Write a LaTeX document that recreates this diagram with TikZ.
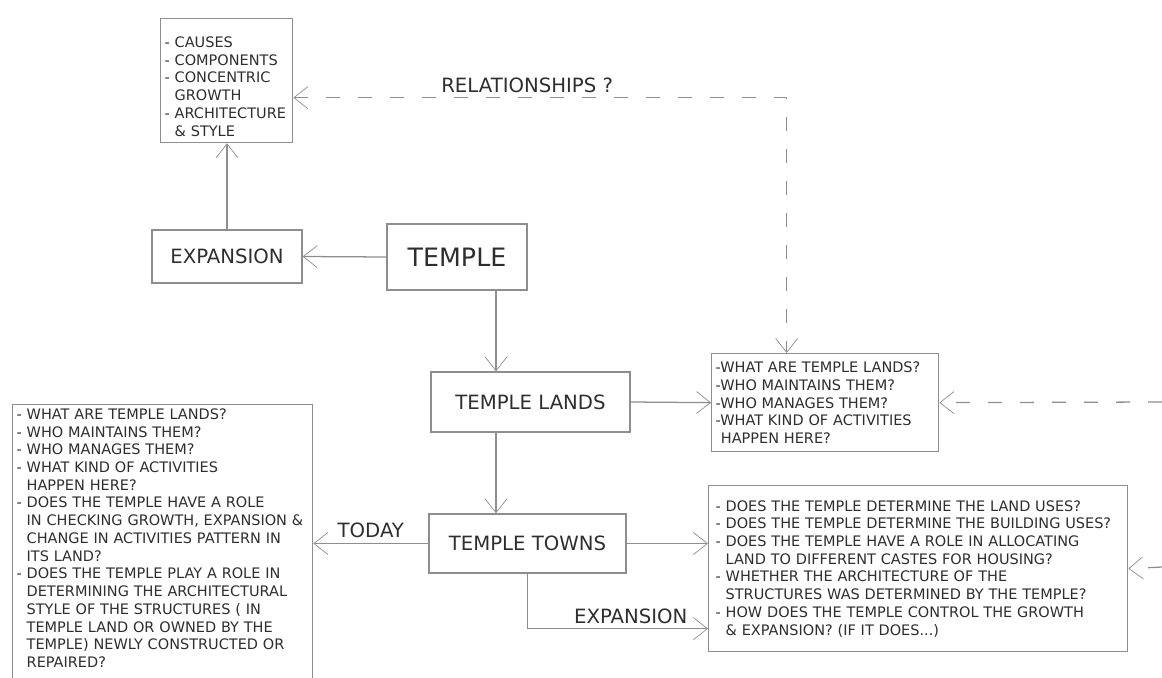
\documentclass[tikz,border=0pt]{standalone}
\usepackage{fontspec}
\setmainfont{DejaVu Sans}
\usetikzlibrary{arrows.meta,calc}
\definecolor{linegray}{HTML}{8E8E8E}
\definecolor{inkgray}{HTML}{2E2E2E}
\newcommand{\ind}{\phantom{- }}
\begin{document}
\begin{tikzpicture}[x=0.025cm, y=-0.025cm,
  >={Straight Barb[length=3.5mm,width=5.5mm,line width=0.5pt]},
  box/.style={draw=linegray, line width=0.9pt, text=inkgray, inner sep=0pt},
  title/.style={box, font=\fontsize{14}{16}\selectfont},
  qbox/.style={draw=linegray, line width=0.9pt, text=inkgray, align=left,
    font=\fontsize{10.3}{12.6}\selectfont, anchor=north west},
  link/.style={draw=linegray, line width=0.9pt, ->},
  dashlink/.style={link, dash pattern=on 0.35cm off 0.45cm},
  lbl/.style={text=inkgray, font=\fontsize{14}{16}\selectfont}]

  \useasboundingbox (0,0) rectangle (1162,677);

  % Nodos
  \node[box, font=\fontsize{18}{20}\selectfont, minimum width=3.5cm, minimum height=1.65cm] (temple) at (457,257) {TEMPLE};
  \node[title, minimum width=3.75cm, minimum height=1.325cm] (expbox) at (227,256.5) {EXPANSION};
  \node[title, minimum width=4.975cm, minimum height=1.5cm] (lands) at (530.5,402) {TEMPLE LANDS};
  \node[title, minimum width=4.925cm, minimum height=1.475cm] (towns) at (527.5,543.5) {TEMPLE TOWNS};

  \node[qbox, inner xsep=0.1cm, inner ysep=0.05cm, text width=3.1cm, minimum height=3.1cm] (topq) at (160,18)
    {\rule{0pt}{16pt}- CAUSES\\- COMPONENTS\\- CONCENTRIC\\\ind GROWTH\\- ARCHITECTURE\\\ind \& STYLE};
  \node[qbox, inner sep=0.1cm, text width=5.475cm, minimum height=2.45cm] (landsq) at (711,353)
    {-WHAT ARE TEMPLE LANDS?\\-WHO MAINTAINS THEM?\\-WHO MANAGES THEM?\\-WHAT KIND OF ACTIVITIES\\\phantom{-}HAPPEN HERE?};
  \node[qbox, inner xsep=0.175cm, inner ysep=0.1cm, text width=10.125cm, minimum height=4.15cm] (townsq) at (708,485)
    {- DOES THE TEMPLE DETERMINE THE LAND USES?\\
     - DOES THE TEMPLE DETERMINE THE BUILDING USES?\\
     - DOES THE TEMPLE HAVE A ROLE IN ALLOCATING\\
     \ind LAND TO DIFFERENT CASTES FOR HOUSING?\\
     - WHETHER THE ARCHITECTURE OF THE\\
     \ind STRUCTURES WAS DETERMINED BY THE TEMPLE?\\
     - HOW DOES THE TEMPLE CONTROL THE GROWTH\\
     \ind \& EXPANSION? (IF IT DOES...)};
  \node[qbox, inner sep=0.1cm, text width=7.3cm] (leftq) at (12,404)
    {- WHAT ARE TEMPLE LANDS?\\
     - WHO MAINTAINS THEM?\\
     - WHO MANAGES THEM?\\
     - WHAT KIND OF ACTIVITIES\\
     \ind HAPPEN HERE?\\
     - DOES THE TEMPLE HAVE A ROLE\\
     \ind IN CHECKING GROWTH, EXPANSION \&\\
     \ind CHANGE IN ACTIVITIES PATTERN IN\\
     \ind ITS LAND?\\
     - DOES THE TEMPLE PLAY A ROLE IN\\
     \ind DETERMINING THE ARCHITECTURAL\\
     \ind STYLE OF THE STRUCTURES ( IN\\
     \ind TEMPLE LAND OR OWNED BY THE\\
     \ind TEMPLE) NEWLY CONSTRUCTED OR\\
     \ind REPAIRED?\\ \mbox{}};

  \coordinate (rin1) at (1162,402);
  \coordinate (rin2) at (1162,567);

  % Conexiones
  \draw[link] (temple.west) -- (expbox.east);
  \draw[link] (expbox.north) -- (expbox.north |- topq.south);
  \draw[link] ([xshift=0.975cm]temple.south) -- ([xshift=0.975cm]temple.south |- lands.north);
  \draw[link] (lands.east) -- (landsq.west);
  \draw[link] ([xshift=-0.8625cm]lands.south) -- ([xshift=-0.8625cm]lands.south |- towns.north);
  \draw[link] (towns.east) -- (towns.east -| townsq.west);
  \draw[link] (towns.west) -- (towns.west -| leftq.east) node[lbl, midway, above] {TODAY};
  \draw[link] (towns.south) |- ([yshift=-1.5cm]townsq.west) node[lbl, pos=0.786, above] {EXPANSION};
  \draw[dashlink, <->] ([yshift=-0.425cm]topq.east) -| ([xshift=-0.9625cm]landsq.north)
    node[lbl, pos=0.237, above] {RELATIONSHIPS ?};
  \draw[dashlink] (rin1) -- (landsq.east);
  \draw[dashlink] (rin2) -- (townsq.east);
\end{tikzpicture}
\end{document}
